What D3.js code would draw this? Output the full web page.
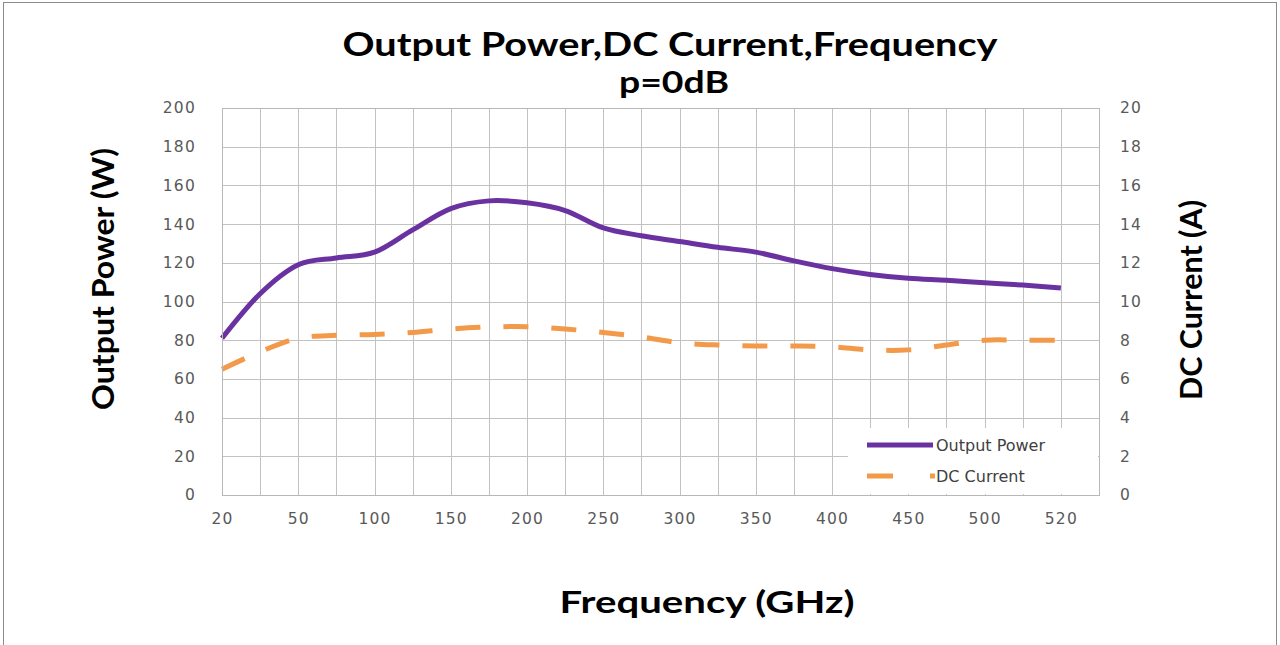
<!DOCTYPE html>
<html>
<head>
<meta charset="utf-8">
<script src="https://cdn.jsdelivr.net/npm/d3@7"></script>
<style>
  body { margin: 0; background: #fff; }
  .tick text { font-family: "DejaVu Sans", sans-serif; font-size: 15.5px; fill: #595959; letter-spacing: 1.2px; }
  .title { font-family: Lato, "Open Sans", sans-serif; font-weight: 700; fill: #000; }
</style>
</head>
<body>
<svg id="chart" width="1280" height="645"></svg>
<script>
// category labels (every other category is labelled, last one is empty)
const freqLabels = ["20", "", "50", "", "100", "", "150", "", "200", "", "250", "",
                    "300", "", "350", "", "400", "", "450", "", "500", "", "520", ""];
const outputPower = [81, 104, 119, 122.5, 125.5, 137, 148, 152, 151, 147, 138, 134,
                     131, 128, 125.5, 121, 117, 114, 112, 111, 109.7, 108.5, 107];
const dcCurrent = [6.5, 7.4, 8.1, 8.25, 8.3, 8.4, 8.58, 8.68, 8.7, 8.58, 8.4, 8.17,
                   7.87, 7.75, 7.7, 7.7, 7.66, 7.5, 7.5, 7.75, 8.0, 8.0, 8.0];
const leftTicks = [0, 20, 40, 60, 80, 100, 120, 140, 160, 180, 200];
const rightTicks = [0, 2, 4, 6, 8, 10, 12, 14, 16, 18, 20];

const plot = {left: 222, right: 1099, top: 108, bottom: 495};

const svg = d3.select("#chart");

// outer frame
svg.append("rect")
    .attr("x", 3.5).attr("y", 2.5)
    .attr("width", 1273).attr("height", 650)
    .attr("fill", "#fff")
    .attr("stroke", "#8c8c8c");

const xScale = d3.scalePoint()
    .domain(d3.range(freqLabels.length))
    .range([plot.left, plot.right]);

const yLeft = d3.scaleLinear().domain([0, 200]).range([plot.bottom, plot.top]);
const yRight = d3.scaleLinear().domain([0, 20]).range([plot.bottom, plot.top]);

const grid = svg.append("g").attr("class", "grid");

// horizontal grid
grid.selectAll("line.h")
    .data(leftTicks)
    .enter().append("line")
    .attr("class", "h")
    .attr("x1", plot.left).attr("x2", plot.right)
    .attr("y1", d => Math.round(yLeft(d)) + 0.5)
    .attr("y2", d => Math.round(yLeft(d)) + 0.5)
    .attr("stroke", "#c2c2c2");

// vertical grid
grid.selectAll("line.v")
    .data(d3.range(freqLabels.length))
    .enter().append("line")
    .attr("class", "v")
    .attr("x1", d => Math.round(xScale(d)) + 0.5)
    .attr("x2", d => Math.round(xScale(d)) + 0.5)
    .attr("y1", plot.top).attr("y2", plot.bottom)
    .attr("stroke", "#c2c2c2");

// axes (labels only)
const xAxis = d3.axisBottom(xScale).tickSize(0).tickPadding(18)
    .tickFormat(i => freqLabels[i]);
svg.append("g")
    .attr("transform", "translate(0," + plot.bottom + ")")
    .call(xAxis)
    .call(g => g.select(".domain").remove());

svg.append("g")
    .attr("transform", "translate(" + plot.left + ",0)")
    .call(d3.axisLeft(yLeft).tickValues(leftTicks).tickSize(0).tickPadding(26))
    .call(g => g.select(".domain").remove());

svg.append("g")
    .attr("transform", "translate(" + plot.right + ",0)")
    .call(d3.axisRight(yRight).tickValues(rightTicks).tickSize(0).tickPadding(21))
    .call(g => g.select(".domain").remove());

// lines
const powerLine = d3.line()
    .x((d, i) => xScale(i))
    .y(d => yLeft(d))
    .curve(d3.curveCardinal.tension(0));

const currentLine = d3.line()
    .x((d, i) => xScale(i))
    .y(d => yRight(d))
    .curve(d3.curveCardinal.tension(0));

svg.append("path")
    .datum(dcCurrent)
    .attr("d", currentLine)
    .attr("fill", "none")
    .attr("stroke", "#f39a4a")
    .attr("stroke-width", 5)
    .attr("stroke-dasharray", "25,23");

svg.append("path")
    .datum(outputPower)
    .attr("d", powerLine)
    .attr("fill", "none")
    .attr("stroke", "#6a32a0")
    .attr("stroke-width", 5)
    .attr("stroke-linejoin", "round");

// legend
const legend = svg.append("g");
legend.append("rect")
    .attr("x", 848).attr("y", 428)
    .attr("width", 250).attr("height", 66)
    .attr("fill", "#fff");
legend.append("line")
    .attr("x1", 867).attr("x2", 933).attr("y1", 445).attr("y2", 445)
    .attr("stroke", "#6a32a0").attr("stroke-width", 5);
legend.append("line")
    .attr("x1", 867).attr("x2", 935).attr("y1", 476).attr("y2", 476)
    .attr("stroke", "#f39a4a").attr("stroke-width", 5)
    .attr("stroke-dasharray", "26,37");
legend.selectAll("text")
    .data(["Output Power", "DC Current"])
    .enter().append("text")
    .attr("x", 936)
    .attr("y", (d, i) => 451 + i * 31)
    .attr("font-family", "DejaVu Sans, sans-serif")
    .attr("font-size", 16)
    .attr("fill", "#404040")
    .text(d => d);

// plot border
svg.append("rect")
    .attr("x", plot.left + 0.5).attr("y", plot.top + 0.5)
    .attr("width", plot.right - plot.left).attr("height", plot.bottom - plot.top)
    .attr("fill", "none")
    .attr("stroke", "#b8b8b8");

// titles
svg.append("text").attr("class", "title")
    .attr("x", 670).attr("y", 56)
    .attr("text-anchor", "middle")
    .attr("font-size", 32)
    .attr("textLength", 655).attr("lengthAdjust", "spacingAndGlyphs")
    .text("Output Power,DC Current,Frequency");

svg.append("text").attr("class", "title")
    .attr("x", 674).attr("y", 93)
    .attr("text-anchor", "middle")
    .attr("font-size", 30)
    .attr("textLength", 110).attr("lengthAdjust", "spacingAndGlyphs")
    .text("p=0dB");

svg.append("text").attr("class", "title")
    .attr("transform", "translate(114,279) rotate(-90)")
    .attr("text-anchor", "middle")
    .attr("font-size", 30)
    .attr("textLength", 262).attr("lengthAdjust", "spacingAndGlyphs")
    .text("Output Power (W)");

svg.append("text").attr("class", "title")
    .attr("transform", "translate(1202,300) rotate(-90)")
    .attr("text-anchor", "middle")
    .attr("font-size", 30)
    .attr("textLength", 200).attr("lengthAdjust", "spacingAndGlyphs")
    .text("DC Current (A)");

svg.append("text").attr("class", "title")
    .attr("x", 707).attr("y", 613)
    .attr("text-anchor", "middle")
    .attr("font-size", 30)
    .attr("textLength", 295).attr("lengthAdjust", "spacingAndGlyphs")
    .text("Frequency (GHz)");
</script>
</body>
</html>
